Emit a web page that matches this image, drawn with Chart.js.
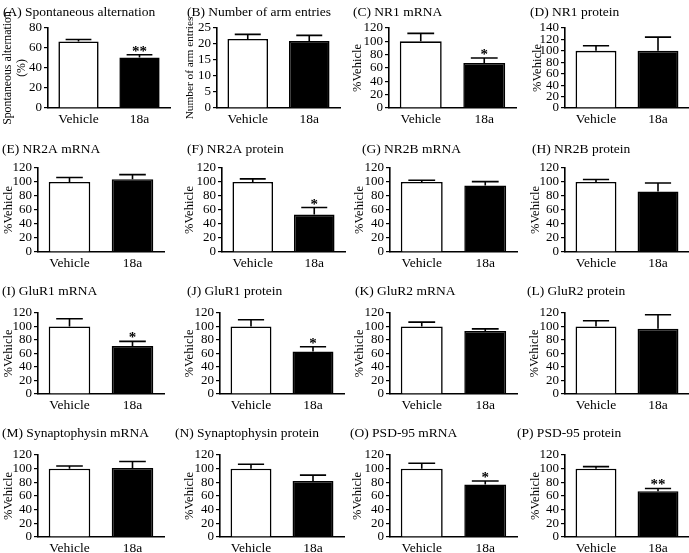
<!DOCTYPE html>
<html>
<head>
<meta charset="utf-8">
<script src="https://cdn.jsdelivr.net/npm/chart.js@4/dist/chart.umd.min.js"></script>
<style>
  html, body { margin: 0; padding: 0; background: #ffffff; }
  #wrap { position: relative; width: 689px; height: 553px; overflow: hidden; background: #fff; }
  canvas { position: absolute; }
</style>
</head>
<body>
<div id="wrap"></div>
<script>
// ---------------- DATA ----------------
const categories = ['Vehicle', '18a'];
const panelTitles = [
  '(A) Spontaneous alternation', '(B) Number of arm entries', '(C) NR1 mRNA', '(D) NR1 protein',
  '(E) NR2A mRNA', '(F) NR2A protein', '(G) NR2B mRNA', '(H) NR2B protein',
  '(I) GluR1 mRNA', '(J) GluR1 protein', '(K) GluR2 mRNA', '(L) GluR2 protein',
  '(M) Synaptophysin mRNA', '(N) Synaptophysin protein', '(O) PSD-95 mRNA', '(P) PSD-95 protein'
];
const yAxisTitles = [
  ['Spontaneous alternation', '(%)'], 'Number of arm entries', '%Vehicle', '%Vehicle',
  '%Vehicle', '%Vehicle', '%Vehicle', '%Vehicle',
  '%Vehicle', '%Vehicle', '%Vehicle', '%Vehicle',
  '%Vehicle', '%Vehicle', '%Vehicle', '%Vehicle'
];
const vehicleMeans = [66.5, 21.6, 100, 100, 100, 100, 100, 100, 100, 100, 100, 100, 100, 100, 100, 100];
const vehicleSEM   = [2.0, 1.4, 12, 9, 6.5, 4.5, 2.5, 3.5, 11.5, 10, 6.5, 8.5, 4, 6.5, 8, 3];
const treatedMeans = [50.5, 20.9, 67.5, 100, 104, 53.5, 95, 86.5, 71, 63, 93.5, 96.5, 101, 82, 77, 67];
const treatedSEM   = [2.8, 1.8, 7.5, 24, 6.5, 10, 5.5, 12, 7, 7, 3, 21, 9.5, 8.5, 5, 4];
const significance = ['**', '', '*', '', '', '*', '', '', '*', '*', '', '', '', '', '*', '**'];
const yMaxValues   = [80, 25, 120, 140, 120, 120, 120, 120, 120, 120, 120, 120, 120, 120, 120, 120];
const yStepValues  = [20, 5, 20, 20, 20, 20, 20, 20, 20, 20, 20, 20, 20, 20, 20, 20];

// ---------------- LAYOUT (pixels) ----------------
const rowMaxY   = [28, 168, 313, 455];
const rowZeroY  = [108, 252, 394, 537];
const rowTitleY = [12, 149, 291, 433];
const colLeft   = [0, 172, 344, 516];
const axisX = [
  [48, 217, 389, 565],
  [38, 222, 390, 565],
  [38, 220, 390, 565],
  [38, 220, 390, 565]
];
const plotW = [
  [122, 123, 127, 124],
  [126, 123, 127, 124],
  [126, 124, 127, 124],
  [126, 124, 127, 124]
];
const titleX = [
  [3, 187, 353, 530],
  [2, 187, 362, 532],
  [2, 187, 355, 527],
  [2, 175, 350, 517]
];
const yTitleCX = [
  [8, 190, 358, 538],
  [9, 190, 360, 536],
  [9, 190, 360, 535],
  [9, 190, 358, 536]
];
const yTitleSizes = [11.8, 11.3, 12.5, 12.5, 12.5, 12.5, 12.5, 12.5, 12.5, 12.5, 12.5, 12.5, 12.5, 12.5, 12.5, 12.5];

const FONT = "'Liberation Serif'";
const wrap = document.getElementById('wrap');

const errorBarPlugin = {
  id: 'errorBars',
  afterDatasetsDraw(chart, args, opts) {
    const ctx = chart.ctx;
    const yScale = chart.scales.y;
    const meta = chart.getDatasetMeta(0);
    const means = chart.data.datasets[0].data;
    const errs = opts.errors;
    ctx.save();
    ctx.strokeStyle = '#000';
    ctx.lineWidth = 1.6;
    meta.data.forEach((bar, i) => {
      const x = bar.x;
      const y0 = yScale.getPixelForValue(means[i]);
      const y1 = yScale.getPixelForValue(means[i] + errs[i]);
      const half = bar.width * 0.32;
      ctx.beginPath();
      ctx.moveTo(x, y0);
      ctx.lineTo(x, y1);
      ctx.moveTo(x - half, y1);
      ctx.lineTo(x + half, y1);
      ctx.stroke();
      if (i === 1 && opts.sig) {
        ctx.fillStyle = '#000';
        ctx.font = 'bold 15px ' + FONT;
        ctx.textAlign = 'center';
        ctx.textBaseline = 'alphabetic';
        ctx.fillText(opts.sig, x, y1 + 1);
      }
    });
    ctx.fillStyle = '#000';
    ctx.font = '13.5px ' + FONT;
    ctx.textAlign = 'left';
    ctx.textBaseline = 'middle';
    ctx.fillText(opts.title, opts.titleX, opts.titleY);
    ctx.restore();
  }
};

for (let p = 0; p < 16; p++) {
  const r = Math.floor(p / 4), c = p % 4;
  const left = colLeft[c];
  const ax = axisX[r][c];
  const pw = plotW[r][c];
  const canvasTop = rowTitleY[r] - 11;
  const topPad = rowMaxY[r] - canvasTop;
  const canvasH = (rowZeroY[r] - canvasTop) + 22;
  const rightPad = 2;
  const canvasW = ax + pw - left + rightPad;

  const cv = document.createElement('canvas');
  cv.width = canvasW; cv.height = canvasH;
  cv.style.left = left + 'px';
  cv.style.top = canvasTop + 'px';
  cv.style.width = canvasW + 'px';
  cv.style.height = canvasH + 'px';
  wrap.appendChild(cv);

  const isMulti = Array.isArray(yAxisTitles[p]);
  const yTitleSize = yTitleSizes[p];
  const yTitleLH = isMulti ? 14 : 15;
  const padLeft = Math.max(0, yTitleCX[r][c] - yTitleLH / 2 - left);
  const yScaleWidth = ax - left - padLeft;
  const xScaleHeight = canvasH - (rowZeroY[r] - canvasTop);

  new Chart(cv, {
    type: 'bar',
    data: {
      labels: categories,
      datasets: [{
        data: [vehicleMeans[p], treatedMeans[p]],
        backgroundColor: ['#ffffff', '#000000'],
        borderColor: '#000000',
        borderWidth: 1.6,
        borderSkipped: 'bottom',
        barPercentage: 0.66,
        categoryPercentage: 1.0
      }]
    },
    options: {
      responsive: false,
      animation: false,
      devicePixelRatio: 1,
      layout: { padding: { left: padLeft, top: topPad, right: rightPad, bottom: 0 } },
      plugins: {
        legend: { display: false },
        tooltip: { enabled: false },
        errorBars: {
          errors: [vehicleSEM[p], treatedSEM[p]],
          sig: significance[p],
          title: panelTitles[p],
          titleX: titleX[r][c] - left,
          titleY: rowTitleY[r] - canvasTop
        }
      },
      scales: {
        x: {
          offset: true,
          grid: { display: false, drawTicks: false },
          border: { display: true, color: '#000', width: 1.6 },
          ticks: { color: '#000', padding: 3, font: { family: FONT, size: 13.5 } },
          afterFit(scale) { scale.height = xScaleHeight; }
        },
        y: {
          min: 0,
          max: yMaxValues[p],
          ticks: { stepSize: yStepValues[p], autoSkip: false, color: '#000', padding: 2, font: { family: FONT, size: 13, lineHeight: 1 } },
          grid: { display: true, drawOnChartArea: false, drawTicks: true, tickLength: 4, color: '#000', lineWidth: 1.2 },
          border: { display: true, color: '#000', width: 1.6 },
          title: {
            display: true,
            text: yAxisTitles[p],
            color: '#000',
            padding: 0,
            font: { family: FONT, size: yTitleSize, lineHeight: yTitleLH / yTitleSize }
          },
          afterFit(scale) { scale.width = yScaleWidth; }
        }
      }
    },
    plugins: [errorBarPlugin]
  });
}
</script>
</body>
</html>
